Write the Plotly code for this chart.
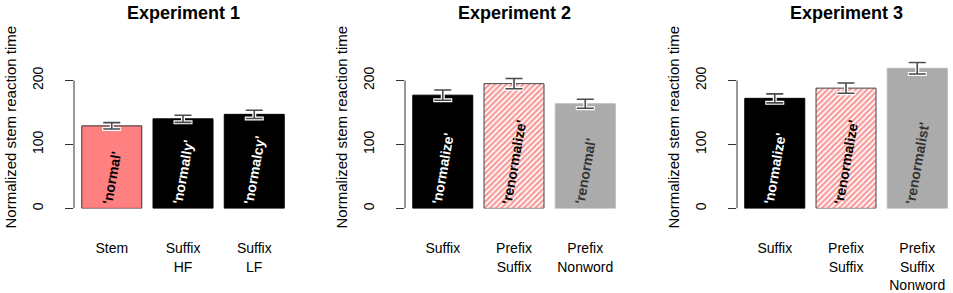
import plotly.graph_objects as go

# ---- data ----
titles = ["Experiment 1", "Experiment 2", "Experiment 3"]
categories = [
    ["Stem", "Suffix<br>HF", "Suffix<br>LF"],
    ["Suffix", "Prefix<br>Suffix", "Prefix<br>Nonword"],
    ["Suffix", "Prefix<br>Suffix", "Prefix<br>Suffix<br>Nonword"],
]
means = [
    [129, 140, 147],
    [177, 195, 163.5],
    [172, 188, 219],
]
errors = [
    [5, 5.5, 6.5],
    [8, 8, 7],
    [7, 8, 9],
]
words = [
    ["'normal'", "'normally'", "'normalcy'"],
    ["'normalize'", "'renormalize'", "'renormal'"],
    ["'normalize'", "'renormalize'", "'renormalist'"],
]
# bar style kinds: pink, black, hatch, gray
kinds = [
    ["pink", "black", "black"],
    ["black", "hatch", "gray"],
    ["black", "hatch", "gray"],
]
ytick_vals = [0, 100, 200]
y_title = "Normalized stem reaction time"

# ---- styles ----
W, H = 953, 293
FONT = "Liberation Sans, Arial, Helvetica, sans-serif"
style = {
    "pink": dict(fill="#FF8080", line="#333333", text="black"),
    "black": dict(fill="#000000", line="#000000", text="white"),
    "hatch": dict(fill="white", line="#444444", text="black"),
    "gray": dict(fill="#ABABAB", line="#B5B5B5", text="#333333"),
}

axis_px = [74, 405, 737]
px_per_unit = 71.25
left_units = -0.53
dom_w = 214
y0_px, y_scale = 215, 0.66
y_range = [0, 230]
ydom = [(H - y0_px) / H, (H - (y0_px - y_range[1] * y_scale)) / H]

fig = go.Figure()
annotations = []
shapes = []

for p in range(3):
    n = "" if p == 0 else str(p + 1)
    xa, ya = "x" + n, "y" + n
    cats = categories[p]
    for i in range(3):
        st = style[kinds[p][i]]
        marker = dict(color=st["fill"], line=dict(color=st["line"], width=1))
        if kinds[p][i] == "hatch":
            marker["pattern"] = dict(shape="/", fgcolor="#F23232", bgcolor="white",
                                     size=4, solidity=0.55)
        fig.add_trace(go.Bar(
            x=[cats[i]], y=[means[p][i]], width=0.842,
            marker=marker,
            text=[words[p][i]], textposition="inside", insidetextanchor="start",
            textangle=-80, constraintext="none",
            textfont=dict(family=FONT, size=14, color=st["text"], weight="bold"),
            error_y=dict(type="data", array=[errors[p][i]], color="white",
                         thickness=4, width=9.5),
            xaxis=xa, yaxis=ya, showlegend=False, hoverinfo="skip",
        ))
    # dark error bar on top of the white halo
    fig.add_trace(go.Scatter(
        x=cats, y=means[p], mode="markers",
        marker=dict(size=1, color="rgba(0,0,0,0)"),
        error_y=dict(type="data", array=errors[p], color="#4A4A4A",
                     thickness=1.6, width=8.5),
        xaxis=xa, yaxis=ya, showlegend=False, hoverinfo="skip",
    ))

    x0 = axis_px[p] / W
    x1 = (axis_px[p] + dom_w) / W
    rng = [left_units, left_units + dom_w / px_per_unit]
    fig.layout["xaxis" + n] = dict(
        domain=[x0, x1], range=rng, type="category", categoryorder="array",
        categoryarray=cats, anchor=ya, showline=False, showgrid=False,
        zeroline=False, ticks="", tickfont=dict(family=FONT, size=14, color="black"),
        ticklabelstandoff=30, fixedrange=True,
    )
    fig.layout["yaxis" + n] = dict(
        domain=ydom, range=y_range, anchor=xa, showline=False, showgrid=False,
        zeroline=False, tickvals=ytick_vals, ticks="outside", ticklen=8,
        tickcolor="#333333", tickwidth=1, tickangle=-90,
        tickfont=dict(family=FONT, size=14, color="black"),
        ticklabelstandoff=16, fixedrange=True,
    )
    shapes.append(dict(type="line", xref=xa + " domain", yref=ya,
                       x0=0, x1=0, y0=ytick_vals[0], y1=ytick_vals[-1],
                       line=dict(color="#333333", width=1)))
    # title centered over bar group
    cx = (axis_px[p] + (0 - left_units) * px_per_unit + 1 * px_per_unit) / W
    annotations.append(dict(text="<b>" + titles[p] + "</b>", xref="paper", yref="paper",
                            x=cx, y=1 - 13 / H, xanchor="center", yanchor="middle",
                            showarrow=False, font=dict(family=FONT, size=18, color="black")))
    annotations.append(dict(text=y_title, xref="paper", yref="paper",
                            x=(axis_px[p] - 64) / W, y=1 - 131.5 / H, textangle=-90,
                            xanchor="center", yanchor="middle", showarrow=False,
                            font=dict(family=FONT, size=15, color="black")))

fig.update_layout(
    width=W, height=H, margin=dict(l=0, r=0, t=0, b=0),
    paper_bgcolor="white", plot_bgcolor="white",
    annotations=annotations, shapes=shapes, barmode="overlay",
)
fig.write_html("out.html", config={"displayModeBar": False},
               post_script="document.body.style.margin='0';document.body.style.overflow='hidden';")
